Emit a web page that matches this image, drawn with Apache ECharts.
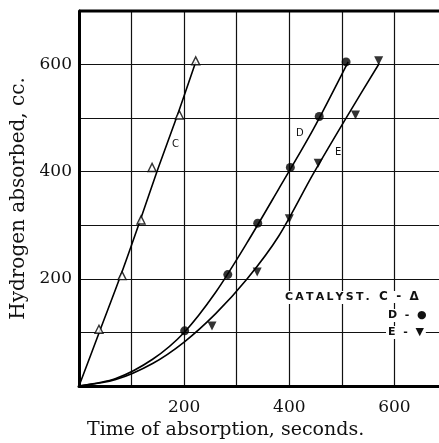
<!DOCTYPE html>
<html>
<head>
<meta charset="utf-8">
<script src="https://cdn.jsdelivr.net/npm/echarts@6/dist/echarts.min.js"></script>
<style>
  html, body { margin: 0; padding: 0; background: #fff; }
  #chart { width: 439px; height: 443px; }
</style>
</head>
<body>
<div id="chart"></div>
<script>
// measured points (time in s, hydrogen in cc)
const pointsC = [[38, 106], [82, 206], [118, 310], [139, 408], [191, 506], [222, 607]];
const pointsD = [[201, 103], [283, 208], [340, 304], [402, 408], [457, 503], [508, 605]];
const pointsE = [[253, 112], [339, 213], [400, 312], [455, 416], [526, 506], [570, 607]];

// smooth curves drawn through the points
const curveC = [[0, 0], [40, 104], [80, 208], [115, 305], [150, 405], [187, 505], [222, 605]];
const curveD = [[0, 0], [70, 14], [140, 50], [200, 100], [260, 175], [320, 268], [380, 368], [445, 478], [512, 605]];
const curveE = [[0, 0], [70, 12], [140, 42], [200, 82], [260, 135], [320, 200], [380, 280], [445, 395], [508, 500], [571, 602]];

const xTicks = [200, 400, 600];
const yTicks = [200, 400, 600];

const chart = echarts.init(document.getElementById('chart'));

const serif = '"DejaVu Serif", "Liberation Serif", serif';
const sans = '"DejaVu Sans", "Liberation Sans", sans-serif';

function lineSeries(data) {
  return {
    type: 'line',
    data: data,
    smooth: 0.3,
    showSymbol: false,
    lineStyle: { color: '#000', width: 1.6 },
    z: 3
  };
}

const option = {
  backgroundColor: '#fff',
  animation: false,
  grid: { left: 79, width: 368, top: 11, height: 375, outerBoundsMode: 'none', containLabel: false },
  xAxis: {
    type: 'value',
    min: 0, max: 700, interval: 100,
    name: 'Time of absorption, seconds.',
    nameLocation: 'start',
    nameGap: 0,
    nameTextStyle: {
      fontFamily: serif, fontSize: 19, color: '#111',
      align: 'left', verticalAlign: 'top', padding: [35, 0, 0, 8]
    },
    axisLine: { show: true, lineStyle: { color: '#000', width: 3 } },
    axisTick: { show: false },
    axisLabel: {
      fontFamily: serif, fontSize: 17, color: '#111', margin: 13,
      formatter: v => xTicks.includes(v) ? String(v) : ''
    },
    splitLine: { show: true, lineStyle: { color: '#111', width: 1.2 } }
  },
  yAxis: {
    type: 'value',
    min: 0, max: 700, interval: 100,
    name: 'Hydrogen absorbed, cc.',
    nameLocation: 'middle',
    nameGap: 50,
    nameTextStyle: { fontFamily: serif, fontSize: 20, color: '#111' },
    axisLine: { show: true, lineStyle: { color: '#000', width: 3 } },
    axisTick: { show: false },
    axisLabel: {
      fontFamily: serif, fontSize: 17, color: '#111', margin: 7,
      formatter: v => yTicks.includes(v) ? String(v) : ''
    },
    splitLine: { show: true, lineStyle: { color: '#111', width: 1.2 } }
  },
  graphic: [
    { type: 'line', shape: { x1: 79, y1: 11, x2: 439, y2: 11 }, style: { stroke: '#000', lineWidth: 3 }, z: 10 },
    { type: 'text', left: 172, top: 139, style: { text: 'C', font: '10px ' + sans, fill: '#111' }, z: 10 },
    { type: 'text', left: 296, top: 128, style: { text: 'D', font: '10px ' + sans, fill: '#111' }, z: 10 },
    { type: 'text', left: 335, top: 147, style: { text: 'E', font: '10px ' + sans, fill: '#111' }, z: 10 },
    { type: 'text', left: 283, top: 291, style: { text: 'C\u2009A\u2009T\u2009A\u2009L\u2009Y\u2009S\u2009T\u2009.', font: 'bold 11px ' + sans, fill: '#111', backgroundColor: '#fff', padding: [1, 2] }, z: 10 },
    { type: 'text', left: 377, top: 291, style: { text: 'C  -  \u0394', font: 'bold 12px ' + sans, fill: '#111', backgroundColor: '#fff', padding: [0, 2] }, z: 10 },
    { type: 'text', left: 386, top: 309, style: { text: 'D  -  \u25CF', font: 'bold 11px ' + sans, fill: '#111', backgroundColor: '#fff', padding: [1, 2] }, z: 10 },
    { type: 'text', left: 386, top: 326, style: { text: 'E  -  \u25BC', font: 'bold 11px ' + sans, fill: '#111', backgroundColor: '#fff', padding: [1, 2] }, z: 10 }
  ],
  series: [
    lineSeries(curveC),
    lineSeries(curveD),
    lineSeries(curveE),
    {
      type: 'scatter', data: pointsC, symbol: 'triangle', symbolSize: 8,
      itemStyle: { color: '#fff', borderColor: '#000', borderWidth: 1.4 }, z: 5
    },
    {
      type: 'scatter', data: pointsD, symbol: 'circle', symbolSize: 9,
      itemStyle: { color: '#000' }, z: 5
    },
    {
      type: 'scatter', data: pointsE, symbol: 'triangle', symbolRotate: 180, symbolSize: 9,
      itemStyle: { color: '#000' }, z: 5
    }
  ]
};

chart.setOption(option);
</script>
</body>
</html>
